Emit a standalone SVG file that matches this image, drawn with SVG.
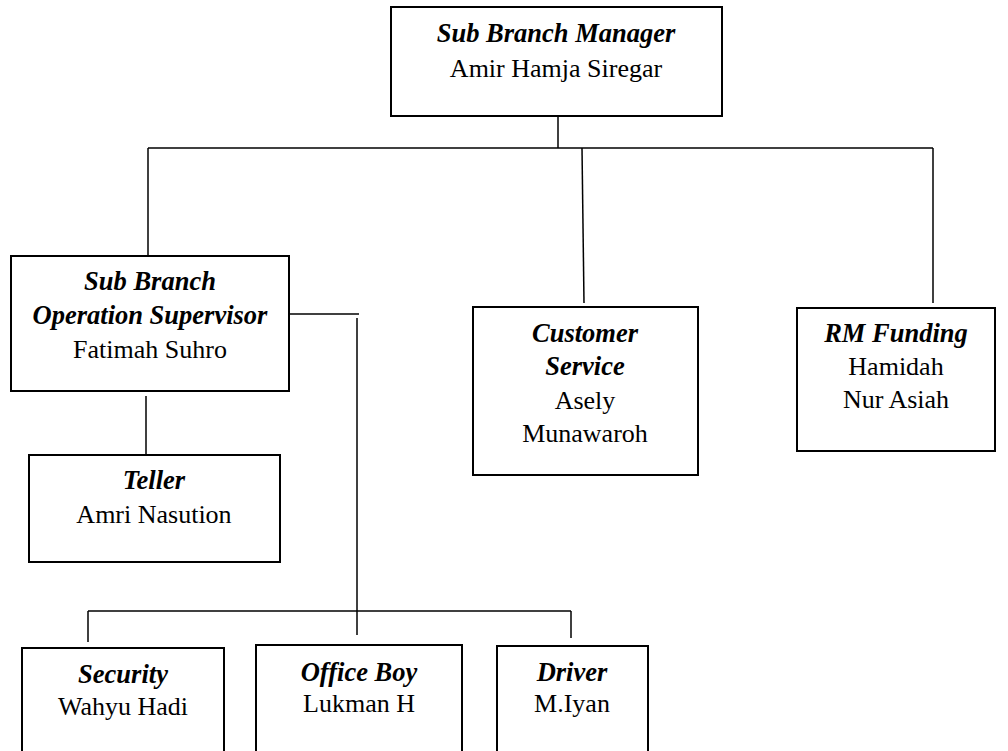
<svg xmlns="http://www.w3.org/2000/svg" width="1008" height="751" viewBox="0 0 1008 751">
<style>
.box{fill:#fff;stroke:#000;stroke-width:2}
.ln{stroke:#000;stroke-width:1.5;fill:none}
text{font-family:"Liberation Serif","Times New Roman",serif;font-size:26px;fill:#000;text-anchor:middle}
.t{font-weight:bold;font-style:italic;font-size:26.5px}
</style>
<rect width="1008" height="751" fill="#fff"/>
<g id="connectors">
<line class="ln" x1="558" y1="116" x2="558" y2="148"/>
<line class="ln" x1="148" y1="148" x2="933" y2="148"/>
<line class="ln" x1="148" y1="148" x2="148" y2="256"/>
<line class="ln" x1="582" y1="148" x2="584" y2="303"/>
<line class="ln" x1="933" y1="148" x2="933" y2="303"/>
<line class="ln" x1="289" y1="314" x2="359" y2="314"/>
<line class="ln" x1="357" y1="318" x2="357" y2="635"/>
<line class="ln" x1="146" y1="396" x2="146" y2="454"/>
<line class="ln" x1="88" y1="611" x2="571" y2="611"/>
<line class="ln" x1="88" y1="611" x2="88" y2="642"/>
<line class="ln" x1="571" y1="611" x2="571" y2="638"/>
</g>
<g id="sbm">
<rect class="box" x="391" y="7" width="331" height="109"/>
<text x="556" y="42" class="t">Sub Branch Manager</text>
<text x="556" y="77">Amir Hamja Siregar</text>
</g>
<g id="sbos">
<rect class="box" x="11" y="256" width="278" height="135"/>
<text x="150" y="290" class="t">Sub Branch</text>
<text x="150" y="324" class="t">Operation Supervisor</text>
<text x="150" y="358">Fatimah Suhro</text>
</g>
<g id="cs">
<rect class="box" x="473" y="307" width="225" height="168"/>
<text x="585" y="342" class="t">Customer</text>
<text x="585" y="375" class="t">Service</text>
<text x="585" y="409">Asely</text>
<text x="585" y="442">Munawaroh</text>
</g>
<g id="rm">
<rect class="box" x="797" y="308" width="198" height="143"/>
<text x="896" y="342" class="t">RM Funding</text>
<text x="896" y="375">Hamidah</text>
<text x="896" y="408">Nur Asiah</text>
</g>
<g id="teller">
<rect class="box" x="29" y="455" width="251" height="107"/>
<text x="154" y="489" class="t">Teller</text>
<text x="154" y="523">Amri Nasution</text>
</g>
<g id="security">
<rect class="box" x="22" y="648" width="202" height="120"/>
<text x="123" y="683" class="t">Security</text>
<text x="123" y="715">Wahyu Hadi</text>
</g>
<g id="officeboy">
<rect class="box" x="256" y="645" width="206" height="120"/>
<text x="359" y="681" class="t">Office Boy</text>
<text x="359" y="712">Lukman H</text>
</g>
<g id="driver">
<rect class="box" x="497" y="646" width="151" height="120"/>
<text x="572" y="681" class="t">Driver</text>
<text x="572" y="712">M.Iyan</text>
</g>
</svg>
